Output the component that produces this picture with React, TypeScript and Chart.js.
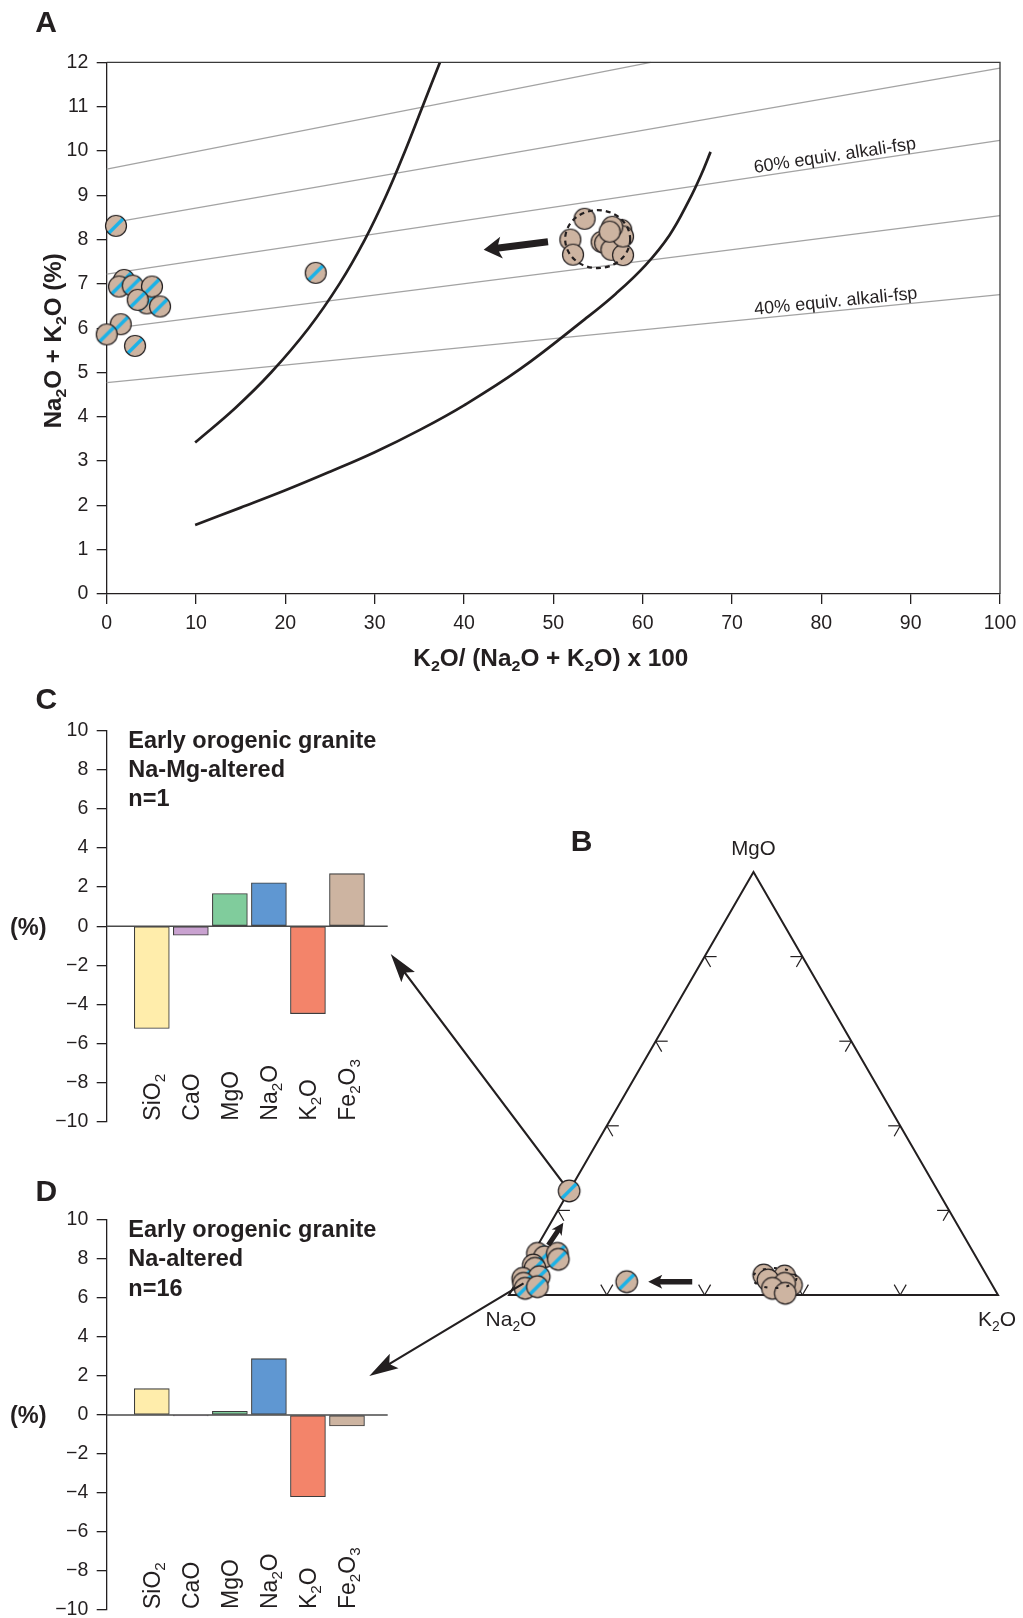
import React, { useEffect, useRef } from "react";
import { Chart, registerables } from "chart.js";

Chart.register(...registerables);

const FONT = '"Liberation Sans", Arial, Helvetica, sans-serif';
const INK = "#231f20";
const TAN = "#cdb4a1";
const CYAN = "#1ab2e8";
const GREY_LINE = "#a3a3a3";
const SQ3 = Math.sqrt(3);

// ---------------- Panel A data ----------------
const xTicksA = [0, 10, 20, 30, 40, 50, 60, 70, 80, 90, 100];
const yTicksA = [0, 1, 2, 3, 4, 5, 6, 7, 8, 9, 10, 11, 12];

// Na-altered samples: K2O/(Na2O+K2O)x100 and Na2O+K2O
const naAltRatio = [1.95, 4.48, 1.04, 1.38, 2.91, 5.07, 3.47, 5.97, 1.57, 0.0, 3.17, 23.4];
const naAltTotal = [7.09, 6.56, 8.31, 6.94, 6.96, 6.94, 6.64, 6.49, 6.09, 5.86, 5.6, 7.25];

// unaltered early orogenic granite
const unaltRatio = [53.5, 51.9, 52.2, 55.4, 55.8, 57.2, 56.5, 57.8, 57.6, 57.8, 56.6, 56.3];
const unaltTotal = [8.47, 8.0, 7.66, 7.95, 7.92, 7.84, 7.77, 7.65, 8.22, 8.07, 8.29, 8.18];

// equivalent alkali-feldspar lines (start / end)
const fspStartX = [0, 0, 0, 0, 0];
const fspStartY = [4.77, 5.98, 7.22, 8.36, 9.59];
const fspEndX = [100, 100, 100, 100, 60.9];
const fspEndY = [6.76, 8.54, 10.24, 11.87, 12];

// igneous spectrum boundaries
const boundary1X = [9.9, 14.4, 18.4, 22.6, 26.05, 28.9, 31.3, 33.4, 35.35, 37.3];
const boundary1Y = [3.42, 4.2, 5.0, 6.0, 7.0, 8.0, 9.0, 10.0, 11.0, 12.0];
const boundary2X = [9.9, 15, 20, 25, 30, 35, 40, 46.3, 53.5, 57, 60.3, 63, 65.2, 66.5, 67.6];
const boundary2Y = [1.56, 1.95, 2.34, 2.76, 3.2, 3.7, 4.26, 5.08, 6.2, 6.78, 7.42, 8.1, 8.89, 9.44, 9.98];

const arrowAFrom = [49.4, 7.95];
const arrowATo = [42.2, 7.77];
const ellipseACenter = [54.96, 8.01];

// ---------------- Panels C / D data ----------------
const oxides = ["SiO_2", "CaO", "MgO", "Na_2O", "K_2O", "Fe_2O_3"];
const oxideColors = ["#ffedab", "#c9a2d0", "#80cc9c", "#5f97d2", "#f3846a", "#cdb4a1"];
const barTicks = [-10, -8, -6, -4, -2, 0, 2, 4, 6, 8, 10];
const naMgChange = [-5.23, -0.46, 1.67, 2.22, -4.47, 2.69];
const naChange = [1.35, -0.05, 0.19, 2.89, -4.19, -0.56];
const titleC = ["Early orogenic granite", "Na-Mg-altered", "n=1"];
const titleD = ["Early orogenic granite", "Na-altered", "n=16"];

// ---------------- Panel B (ternary) data: MgO and K2O fractions (Na2O = rest) ----------------
const naClusterMg = [0.0985, 0.0904, 0.0708, 0.063, 0.0394, 0.0432, 0.0276, 0.0158, 0.0196, 0.0985, 0.0843];
const naClusterK = [0.0089, 0.0272, 0.0143, 0.0217, 0.0083, 0.0402, 0.0159, 0.0252, 0.0483, 0.0496, 0.0587];
const naMgSampleMg = [0.246];
const naMgSampleK = [0.0];
const loneSampleMg = [0.0314];
const loneSampleK = [0.225];
const unaltTernMg = [0.0472, 0.0449, 0.0354, 0.0236, 0.0276, 0.0158, 0.004];
const unaltTernK = [0.4973, 0.5412, 0.512, 0.5659, 0.5498, 0.5308, 0.563];
const ternTicks = [0.2, 0.4, 0.6, 0.8];
const ternArrowLone = [0.0314, 0.359, 0.0314, 0.269]; // fromMg, fromK, toMg, toK
const ternArrowUp = [0.118, 0.0214, 0.1707, 0.0257];
const ternEllipse = [0.04, 0.523];

// layout anchors for arrows pointing into panels C and D (page px)
const TIP_C = [390.7, 954];
const TIP_D = [369.3, 1376];

// ---------------- helpers ----------------
function segs(s: string) {
  const out: { t: string; sub: boolean }[] = [];
  let cur = "";
  for (let i = 0; i < s.length; i++) {
    if (s[i] === "_" && i + 1 < s.length) {
      if (cur) out.push({ t: cur, sub: false });
      cur = "";
      out.push({ t: s[i + 1], sub: true });
      i++;
    } else cur += s[i];
  }
  if (cur) out.push({ t: cur, sub: false });
  return out;
}

function drawRich(
  ctx: CanvasRenderingContext2D,
  s: string,
  x: number,
  y: number,
  o: { size: number; bold?: boolean; align?: "left" | "center" | "right"; rotate?: number; fit?: number; color?: string }
) {
  const sg = segs(s);
  const w = o.bold ? "bold " : "";
  const sub = o.size * 0.66;
  ctx.save();
  let total = 0;
  const widths = sg.map((g) => {
    ctx.font = `${w}${g.sub ? sub : o.size}px ${FONT}`;
    const m = ctx.measureText(g.t).width;
    total += m;
    return m;
  });
  ctx.translate(x, y);
  if (o.rotate) ctx.rotate(o.rotate);
  if (o.fit) ctx.scale(o.fit / total, 1);
  let cx = o.align === "center" ? -total / 2 : o.align === "right" ? -total : 0;
  ctx.fillStyle = o.color || INK;
  ctx.textBaseline = "alphabetic";
  ctx.textAlign = "left";
  sg.forEach((g, i) => {
    ctx.font = `${w}${g.sub ? sub : o.size}px ${FONT}`;
    ctx.fillText(g.t, cx, g.sub ? o.size * 0.22 : 0);
    cx += widths[i];
  });
  ctx.restore();
}

function blockArrow(
  ctx: CanvasRenderingContext2D,
  x0: number, y0: number, x1: number, y1: number,
  shaft: number, headLen: number, headW: number, barb: number
) {
  const dx = x1 - x0, dy = y1 - y0;
  const L = Math.hypot(dx, dy);
  const ux = dx / L, uy = dy / L;
  const nx = -uy, ny = ux;
  const bx = x1 - ux * headLen, by = y1 - uy * headLen;
  const cx = bx - ux * barb, cy = by - uy * barb;
  ctx.save();
  ctx.fillStyle = INK;
  ctx.beginPath();
  ctx.moveTo(x0 + (nx * shaft) / 2, y0 + (ny * shaft) / 2);
  ctx.lineTo(bx + (nx * shaft) / 2, by + (ny * shaft) / 2);
  ctx.lineTo(cx + (nx * headW) / 2, cy + (ny * headW) / 2);
  ctx.lineTo(x1, y1);
  ctx.lineTo(cx - (nx * headW) / 2, cy - (ny * headW) / 2);
  ctx.lineTo(bx - (nx * shaft) / 2, by - (ny * shaft) / 2);
  ctx.lineTo(x0 - (nx * shaft) / 2, y0 - (ny * shaft) / 2);
  ctx.closePath();
  ctx.fill();
  ctx.restore();
}

function makeMarker(r: number, stripe: boolean) {
  const size = 26;
  const c = document.createElement("canvas");
  c.width = size;
  c.height = size;
  const g = c.getContext("2d")!;
  const m = size / 2;
  g.beginPath();
  g.arc(m, m, r, 0, Math.PI * 2);
  g.fillStyle = TAN;
  g.fill();
  if (stripe) {
    g.save();
    g.beginPath();
    g.arc(m, m, r, 0, Math.PI * 2);
    g.clip();
    g.strokeStyle = CYAN;
    g.lineWidth = 3.4;
    g.beginPath();
    g.moveTo(m - r, m + r);
    g.lineTo(m + r, m - r);
    g.stroke();
    g.restore();
  }
  g.beginPath();
  g.arc(m, m, r, 0, Math.PI * 2);
  g.strokeStyle = INK;
  g.lineWidth = 1.2;
  g.stroke();
  return c;
}

const tickFont = { family: FONT, size: 19.5 };

function zeroPad(scale: any) {
  scale.paddingTop = 0;
  scale.paddingBottom = 0;
  scale.paddingLeft = 0;
  scale.paddingRight = 0;
}

// ---------------- Panel A ----------------
function buildA(canvas: HTMLCanvasElement) {
  const striped = makeMarker(10.5, true);
  const plain = makeMarker(10.5, false);
  const datasets: any[] = [];
  fspStartX.forEach((_, i) =>
    datasets.push({
      data: [
        { x: fspStartX[i], y: fspStartY[i] },
        { x: fspEndX[i], y: fspEndY[i] },
      ],
      showLine: true,
      borderColor: GREY_LINE,
      borderWidth: 1.2,
      pointRadius: 0,
      order: 3,
      clip: false,
    })
  );
  [
    [boundary1X, boundary1Y],
    [boundary2X, boundary2Y],
  ].forEach(([bx, by]) =>
    datasets.push({
      data: bx.map((x, i) => ({ x, y: by[i] })),
      showLine: true,
      borderColor: INK,
      borderWidth: 2.7,
      pointRadius: 0,
      tension: 0.4,
      order: 2,
      clip: false,
    })
  );
  datasets.push({
    data: unaltRatio.map((x, i) => ({ x, y: unaltTotal[i] })),
    pointStyle: plain,
    pointRadius: 10.5,
    order: 1,
    clip: false,
  });
  datasets.push({
    data: naAltRatio.map((x, i) => ({ x, y: naAltTotal[i] })),
    pointStyle: striped,
    pointRadius: 10.5,
    order: 0,
    clip: false,
  });

  const plugin = {
    id: "panelA",
    afterDatasetsDraw(chart: any) {
      const { ctx, scales } = chart;
      const xs = scales.x, ys = scales.y;
      ctx.save();
      ctx.setLineDash([5, 4]);
      ctx.lineWidth = 2.2;
      ctx.strokeStyle = INK;
      ctx.beginPath();
      ctx.ellipse(xs.getPixelForValue(ellipseACenter[0]), ys.getPixelForValue(ellipseACenter[1]), 32.5, 29, 0, 0, Math.PI * 2);
      ctx.stroke();
      ctx.restore();
      blockArrow(
        ctx,
        xs.getPixelForValue(arrowAFrom[0]), ys.getPixelForValue(arrowAFrom[1]),
        xs.getPixelForValue(arrowATo[0]), ys.getPixelForValue(arrowATo[1]),
        7, 15, 22, 3
      );
      const lab = (i: number, text: string) => {
        const xv = 72.6;
        const yv = fspStartY[i] + ((fspEndY[i] - fspStartY[i]) * (xv - fspStartX[i])) / (fspEndX[i] - fspStartX[i]);
        const p1x = xs.getPixelForValue(fspStartX[i]), p1y = ys.getPixelForValue(fspStartY[i]);
        const p2x = xs.getPixelForValue(fspEndX[i]), p2y = ys.getPixelForValue(fspEndY[i]);
        const ang = Math.atan2(p2y - p1y, p2x - p1x);
        ctx.save();
        ctx.translate(xs.getPixelForValue(xv), ys.getPixelForValue(yv));
        ctx.rotate(ang);
        ctx.font = `18px ${FONT}`;
        ctx.fillStyle = INK;
        ctx.textBaseline = "alphabetic";
        ctx.textAlign = "left";
        ctx.fillText(text, 0, -4);
        ctx.restore();
      };
      lab(2, "60% equiv. alkali-fsp");
      lab(0, "40% equiv. alkali-fsp");
    },
    afterDraw(chart: any) {
      const { ctx, chartArea: ca } = chart;
      ctx.save();
      ctx.strokeStyle = "#3a3a3a";
      ctx.lineWidth = 1.3;
      ctx.beginPath();
      ctx.moveTo(ca.left, ca.top);
      ctx.lineTo(ca.right, ca.top);
      ctx.lineTo(ca.right, ca.bottom);
      ctx.stroke();
      ctx.restore();
      drawRich(ctx, "K_2O/ (Na_2O + K_2O) x 100", 550.8, 665.7, { size: 23, bold: true, align: "center", fit: 275 });
      drawRich(ctx, "Na_2O + K_2O (%)", 61, 340.8, { size: 23, bold: true, align: "center", rotate: -Math.PI / 2, fit: 175 });
      drawRich(ctx, "A", 46.2, 32, { size: 30, bold: true, align: "center" });
    },
  };

  return new Chart(canvas, {
    type: "scatter",
    data: { datasets },
    options: {
      responsive: false,
      animation: false,
      devicePixelRatio: 1,
      events: [],
      layout: { padding: { left: 0, right: 23, top: 62.4, bottom: 0 } },
      plugins: { legend: { display: false }, tooltip: { enabled: false } },
      scales: {
        x: {
          type: "linear",
          min: 0,
          max: 100,
          afterBuildTicks: (s: any) => {
            s.ticks = xTicksA.map((v) => ({ value: v }));
          },
          afterFit: (s: any) => {
            s.height = 86;
            zeroPad(s);
          },
          grid: { drawOnChartArea: false, drawTicks: true, tickLength: 10, color: INK, lineWidth: 1.3 },
          border: { display: true, color: INK, width: 1.3 },
          ticks: { font: tickFont, color: INK, padding: 8, autoSkip: false, maxRotation: 0 },
        },
        y: {
          type: "linear",
          min: 0,
          max: 12,
          afterBuildTicks: (s: any) => {
            s.ticks = yTicksA.map((v) => ({ value: v }));
          },
          afterFit: (s: any) => {
            s.width = 106.7;
            zeroPad(s);
          },
          grid: { drawOnChartArea: false, drawTicks: true, tickLength: 10, color: INK, lineWidth: 1.3 },
          border: { display: true, color: INK, width: 1.3 },
          ticks: { font: tickFont, color: INK, padding: 8.4, autoSkip: false },
        },
      },
    } as any,
    plugins: [plugin],
  });
}

// ---------------- Panels C / D ----------------
function buildBars(
  canvas: HTMLCanvasElement,
  values: number[],
  title: string[],
  letter: string,
  letterBaseline: number,
  padTop: number,
  padBottom: number
) {
  const plugin = {
    id: "bars" + letter,
    afterDatasetsDraw(chart: any) {
      const { ctx, scales } = chart;
      const xs = scales.x, ys = scales.y;
      const y0 = ys.getPixelForValue(0);
      ctx.save();
      ctx.strokeStyle = "#4a4a4a";
      ctx.lineWidth = 1.5;
      ctx.beginPath();
      ctx.moveTo(xs.left, y0);
      ctx.lineTo(xs.right, y0);
      ctx.stroke();
      ctx.restore();
      const yb = ys.getPixelForValue(-10) - 1;
      oxides.forEach((ox, i) => {
        drawRich(ctx, ox, xs.getPixelForValue(i) + 8, yb, { size: 23, align: "left", rotate: -Math.PI / 2 });
      });
    },
    afterDraw(chart: any) {
      const { ctx, scales } = chart;
      const ys = scales.y;
      const top = ys.getPixelForValue(10);
      const offs = [17.3, 46, 75.5];
      title.forEach((t, i) => drawRich(ctx, t, 128.3, top + offs[i], { size: 23.5, bold: true }));
      drawRich(ctx, "(%)", 28.3, ys.getPixelForValue(0) + 8.4, { size: 23.5, bold: true, align: "center" });
      drawRich(ctx, letter, 46.3, letterBaseline, { size: 30, bold: true, align: "center" });
    },
  };
  return new Chart(canvas, {
    type: "bar",
    data: {
      datasets: [
        {
          data: values.map((v, i) => ({ x: i, y: v })),
          backgroundColor: oxideColors,
          borderColor: "#3d3d3d",
          borderWidth: 1.1,
          borderSkipped: false,
          barThickness: 35,
        },
      ],
    },
    options: {
      responsive: false,
      animation: false,
      devicePixelRatio: 1,
      events: [],
      layout: { padding: { left: 0, right: 480 - 387.7, top: padTop, bottom: padBottom } },
      plugins: { legend: { display: false }, tooltip: { enabled: false } },
      scales: {
        x: { type: "linear", min: -1.155, max: 6.043, display: false, offset: false },
        y: {
          type: "linear",
          min: -10,
          max: 10,
          afterBuildTicks: (s: any) => {
            s.ticks = barTicks.map((v) => ({ value: v }));
          },
          afterFit: (s: any) => {
            s.width = 106.7;
            zeroPad(s);
          },
          grid: { drawOnChartArea: false, drawTicks: true, tickLength: 10, color: INK, lineWidth: 1.3 },
          border: { display: true, color: INK, width: 1.3 },
          ticks: {
            font: tickFont,
            color: INK,
            padding: 8.4,
            autoSkip: false,
            callback: (v: any) => (v < 0 ? "\u2212" + Math.abs(v) : String(v)),
          },
        },
      },
    } as any,
    plugins: [plugin],
  });
}

// ---------------- Panel B (ternary) ----------------
function buildTernary(canvas: HTMLCanvasElement) {
  const striped = makeMarker(10.8, true);
  const plain = makeMarker(10.8, false);
  const toXY = (mg: number, k: number) => ({ x: k + mg / 2, y: (mg * SQ3) / 2 });

  const plugin = {
    id: "ternary",
    beforeDatasetsDraw(chart: any) {
      const { ctx, scales } = chart;
      const xs = scales.x, ys = scales.y;
      const P = (mg: number, k: number) => {
        const q = toXY(mg, k);
        return [xs.getPixelForValue(q.x), ys.getPixelForValue(q.y)];
      };
      const na = P(0, 0), mg = P(1, 0), k = P(0, 1);
      ctx.save();
      ctx.strokeStyle = INK;
      ctx.lineWidth = 2;
      ctx.lineJoin = "miter";
      ctx.beginPath();
      ctx.moveTo(na[0], na[1]);
      ctx.lineTo(mg[0], mg[1]);
      ctx.lineTo(k[0], k[1]);
      ctx.closePath();
      ctx.stroke();
      ctx.lineWidth = 1.2;
      const L = 12;
      const seg = (p: number[], dx: number, dy: number) => {
        ctx.beginPath();
        ctx.moveTo(p[0], p[1]);
        ctx.lineTo(p[0] + dx * L, p[1] + dy * L);
        ctx.stroke();
      };
      ternTicks.forEach((f) => {
        const pl = P(f, 0);
        seg(pl, 1, 0);
        seg(pl, 0.5, SQ3 / 2);
        const pr = P(f, 1 - f);
        seg(pr, -1, 0);
        seg(pr, -0.5, SQ3 / 2);
        const pb = P(0, f);
        seg(pb, -0.5, -SQ3 / 2);
        seg(pb, 0.5, -SQ3 / 2);
      });
      ctx.restore();
      const s = P(naMgSampleMg[0], naMgSampleK[0]);
      const d = Math.hypot(TIP_C[0] - s[0], TIP_C[1] - s[1]);
      const sx = s[0] + ((TIP_C[0] - s[0]) / d) * 10.8;
      const sy = s[1] + ((TIP_C[1] - s[1]) / d) * 10.8;
      blockArrow(ctx, sx, sy, TIP_C[0], TIP_C[1], 2.2, 24, 17, 5);
    },
    afterDatasetsDraw(chart: any) {
      const { ctx, scales } = chart;
      const xs = scales.x, ys = scales.y;
      const P = (mg: number, k: number) => {
        const q = toXY(mg, k);
        return [xs.getPixelForValue(q.x), ys.getPixelForValue(q.y)];
      };
      const g = P(naClusterMg[6], naClusterK[6]);
      blockArrow(ctx, g[0], g[1], TIP_D[0], TIP_D[1], 2.2, 24, 17, 5);
      const a1 = P(ternArrowLone[0], ternArrowLone[1]);
      const a2 = P(ternArrowLone[2], ternArrowLone[3]);
      blockArrow(ctx, a1[0], a1[1], a2[0], a2[1], 5.5, 12, 14, 2);
      const b1 = P(ternArrowUp[0], ternArrowUp[1]);
      const b2 = P(ternArrowUp[2], ternArrowUp[3]);
      blockArrow(ctx, b1[0], b1[1], b2[0], b2[1], 5, 10, 12, 2);
      const e = P(ternEllipse[0], ternEllipse[1]);
      ctx.save();
      ctx.setLineDash([3, 8]);
      ctx.lineWidth = 2;
      ctx.strokeStyle = INK;
      ctx.beginPath();
      ctx.ellipse(e[0], e[1], 22, 10, 0, 0, Math.PI * 2);
      ctx.stroke();
      ctx.restore();
    },
    afterDraw(chart: any) {
      const { ctx } = chart;
      const ca = chart.chartArea;
      drawRich(ctx, "MgO", (ca.left + ca.right) / 2, ca.top - 17, { size: 20.5, align: "center" });
      drawRich(ctx, "Na_2O", ca.left + 2, ca.bottom + 31, { size: 21, align: "center" });
      drawRich(ctx, "K_2O", ca.right - 1, ca.bottom + 31, { size: 21, align: "center" });
      drawRich(ctx, "B", 581.5, 851, { size: 30, bold: true, align: "center" });
    },
  };

  return new Chart(canvas, {
    type: "scatter",
    data: {
      datasets: [
        {
          data: unaltTernMg.map((m, i) => toXY(m, unaltTernK[i])),
          pointStyle: plain,
          pointRadius: 10.8,
          clip: false,
          order: 2,
        },
        {
          data: naClusterMg.map((m, i) => toXY(m, naClusterK[i])),
          pointStyle: striped,
          pointRadius: 10.8,
          clip: false,
          order: 1,
        },
        {
          data: [toXY(naMgSampleMg[0], naMgSampleK[0]), toXY(loneSampleMg[0], loneSampleK[0])],
          pointStyle: striped,
          pointRadius: 10.8,
          clip: false,
          order: 0,
        },
      ],
    },
    options: {
      responsive: false,
      animation: false,
      devicePixelRatio: 1,
      events: [],
      layout: { padding: { left: 509, right: 1023 - 998, top: 872, bottom: 1618 - 1295 } },
      plugins: { legend: { display: false }, tooltip: { enabled: false } },
      scales: {
        x: { type: "linear", min: 0, max: 1, display: false },
        y: { type: "linear", min: 0, max: SQ3 / 2, display: false },
      },
    } as any,
    plugins: [plugin],
  });
}

export default function App() {
  const refA = useRef<HTMLCanvasElement>(null);
  const refC = useRef<HTMLCanvasElement>(null);
  const refD = useRef<HTMLCanvasElement>(null);
  const refB = useRef<HTMLCanvasElement>(null);

  useEffect(() => {
    const charts = [
      buildA(refA.current!),
      buildBars(refC.current!, naMgChange, titleC, "C", 709 - 660, 730.7 - 660, 480 - (1121.7 - 660)),
      buildBars(refD.current!, naChange, titleD, "D", 1201 - 1140, 1220 - 1140, 478 - (1610 - 1140)),
      buildTernary(refB.current!),
    ];
    return () => charts.forEach((c) => c.destroy());
  }, []);

  return (
    <div
      style={{
        position: "absolute",
        left: 0,
        top: 0,
        width: 1023,
        height: 1618,
        background: "#ffffff",
        overflow: "hidden",
      }}
    >
      <canvas ref={refA} width={1023} height={680} style={{ position: "absolute", left: 0, top: 0 }} />
      <canvas ref={refC} width={480} height={480} style={{ position: "absolute", left: 0, top: 660 }} />
      <canvas ref={refD} width={480} height={478} style={{ position: "absolute", left: 0, top: 1140 }} />
      <canvas
        ref={refB}
        width={1023}
        height={1618}
        style={{ position: "absolute", left: 0, top: 0, pointerEvents: "none" }}
      />
    </div>
  );
}
